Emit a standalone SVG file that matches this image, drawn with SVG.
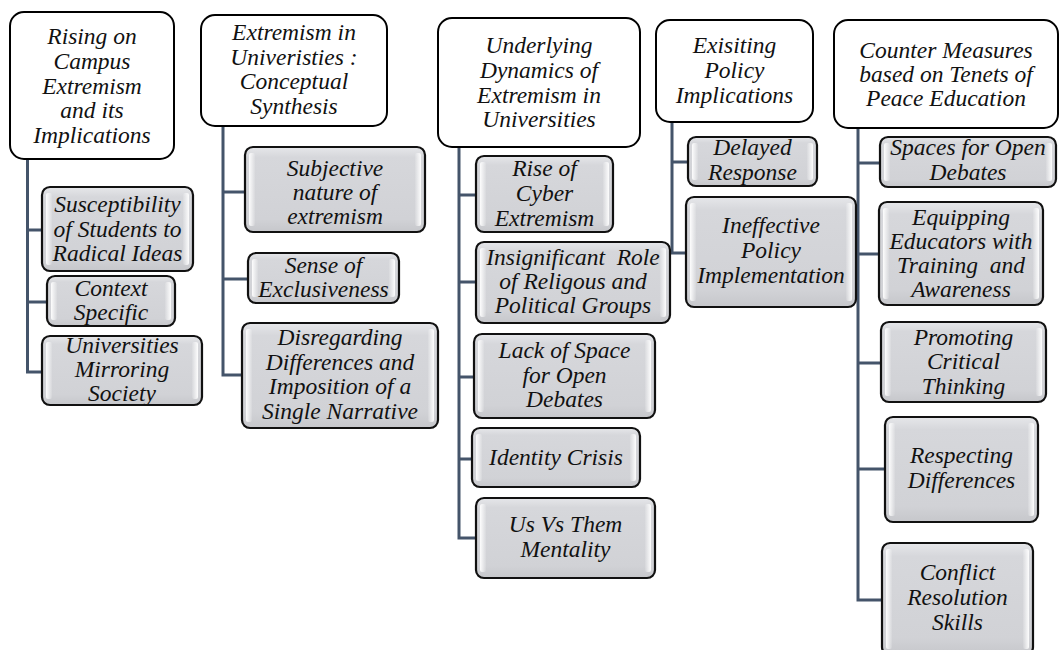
<svg xmlns="http://www.w3.org/2000/svg" width="1059" height="650" viewBox="0 0 1059 650">
<defs>
<linearGradient id="body" x1="0" y1="0" x2="0" y2="1">
<stop offset="0" stop-color="#e6e7ea"/>
<stop offset="0.12" stop-color="#d6d7db"/>
<stop offset="0.85" stop-color="#d1d2d6"/>
<stop offset="1" stop-color="#c6c7cb"/>
</linearGradient>
<linearGradient id="hlL" x1="0" y1="0" x2="1" y2="0">
<stop offset="0" stop-color="#ffffff" stop-opacity="0.95"/>
<stop offset="1" stop-color="#ffffff" stop-opacity="0.1"/>
</linearGradient>
<linearGradient id="hlR" x1="0" y1="0" x2="1" y2="0">
<stop offset="0" stop-color="#ffffff" stop-opacity="0.1"/>
<stop offset="1" stop-color="#ffffff" stop-opacity="0.95"/>
</linearGradient>
</defs>
<style>
.h{fill:#ffffff;stroke:#000;stroke-width:2}
.c{fill:url(#body);stroke:#111;stroke-width:2.2}
.l{fill:url(#hlL)}
.r{fill:url(#hlR)}
text{font-family:'Liberation Serif','Times New Roman',Times,serif;font-style:italic;font-size:23.5px;fill:#111;text-anchor:middle}
.con{fill:none;stroke:#44546a;stroke-width:3}
</style>
<rect width="1059" height="650" fill="#ffffff"/>
<g id="connectors">
<path class="con" d="M27.5 159V372H42M27.5 230H42M27.5 302H47"/>
<path class="con" d="M223 126V375H242M223 192H245M223 279H248"/>
<path class="con" d="M459 147V538H476M459 195H476M459 282H476M459 377H474M459 459H472"/>
<path class="con" d="M672 122V253H686M672 162H688"/>
<path class="con" d="M858 128V600H882M858 163H880M858 254H879M858 363H881M858 469H885"/>
</g>
<g id="h1"><rect class="h" x="10" y="12" width="164" height="147" rx="14"/>
<text><tspan x="92" y="44">Rising on</tspan><tspan x="92" y="69">Campus</tspan><tspan x="92" y="93.5">Extremism</tspan><tspan x="92" y="118">and its</tspan><tspan x="92" y="143">Implications</tspan></text></g>
<g id="h2"><rect class="h" x="201" y="15" width="186" height="111" rx="14"/>
<text><tspan x="294" y="40">Extremism in</tspan><tspan x="294" y="64.5">Univeristies :</tspan><tspan x="294" y="89">Conceptual</tspan><tspan x="294" y="113.5">Synthesis</tspan></text></g>
<g id="h3"><rect class="h" x="438" y="18" width="202" height="129" rx="14"/>
<text><tspan x="539" y="53">Underlying</tspan><tspan x="539" y="78">Dynamics of</tspan><tspan x="539" y="102.5">Extremism in</tspan><tspan x="539" y="127">Universities</tspan></text></g>
<g id="h4"><rect class="h" x="656" y="20" width="157" height="102" rx="14"/>
<text><tspan x="734.5" y="53">Exisiting</tspan><tspan x="734.5" y="78">Policy</tspan><tspan x="734.5" y="102.5">Implications</tspan></text></g>
<g id="h5"><rect class="h" x="834" y="20" width="224" height="108" rx="14"/>
<text><tspan x="946" y="57.5">Counter Measures</tspan><tspan x="946" y="82">based on Tenets of</tspan><tspan x="946" y="106">Peace Education</tspan></text></g>

<g id="c1a"><rect class="c" x="42" y="187" width="151" height="84" rx="8"/><rect class="l" x="46" y="193" width="6" height="72" rx="2"/><rect class="r" x="183" y="193" width="6" height="72" rx="2"/>
<text><tspan x="117.5" y="212">Susceptibility</tspan><tspan x="117.5" y="236.5">of Students to</tspan><tspan x="117.5" y="261">Radical Ideas</tspan></text></g>
<g id="c1b"><rect class="c" x="47" y="276" width="128" height="50" rx="8"/><rect class="l" x="51" y="282" width="6" height="38" rx="2"/><rect class="r" x="165" y="282" width="6" height="38" rx="2"/>
<text><tspan x="111" y="296">Context</tspan><tspan x="111" y="320">Specific</tspan></text></g>
<g id="c1c"><rect class="c" x="42" y="336" width="160" height="69" rx="8"/><rect class="l" x="46" y="342" width="6" height="57" rx="2"/><rect class="r" x="192" y="342" width="6" height="57" rx="2"/>
<text><tspan x="122" y="352.5">Universities</tspan><tspan x="122" y="376.5">Mirroring</tspan><tspan x="122" y="400.5">Society</tspan></text></g>

<g id="c2a"><rect class="c" x="245" y="147" width="180" height="85" rx="8"/><rect class="l" x="249" y="153" width="6" height="73" rx="2"/><rect class="r" x="415" y="153" width="6" height="73" rx="2"/>
<text><tspan x="335" y="176">Subjective</tspan><tspan x="335" y="200">nature of</tspan><tspan x="335" y="224">extremism</tspan></text></g>
<g id="c2b"><rect class="c" x="248" y="253" width="151" height="50" rx="8"/><rect class="l" x="252" y="259" width="6" height="38" rx="2"/><rect class="r" x="389" y="259" width="6" height="38" rx="2"/>
<text><tspan x="323.5" y="273">Sense of</tspan><tspan x="323.5" y="297">Exclusiveness</tspan></text></g>
<g id="c2c"><rect class="c" x="242" y="323" width="196" height="105" rx="8"/><rect class="l" x="246" y="329" width="6" height="93" rx="2"/><rect class="r" x="428" y="329" width="6" height="93" rx="2"/>
<text><tspan x="340" y="345">Disregarding</tspan><tspan x="340" y="369.5">Differences and</tspan><tspan x="340" y="394">Imposition of a</tspan><tspan x="340" y="418.5">Single Narrative</tspan></text></g>

<g id="c3a"><rect class="c" x="476" y="156" width="137" height="76" rx="8"/><rect class="l" x="480" y="162" width="6" height="64" rx="2"/><rect class="r" x="603" y="162" width="6" height="64" rx="2"/>
<text><tspan x="544.5" y="176">Rise of</tspan><tspan x="544.5" y="201">Cyber</tspan><tspan x="544.5" y="226">Extremism</tspan></text></g>
<g id="c3b"><rect class="c" x="476" y="242" width="194" height="81" rx="8"/><rect class="l" x="480" y="248" width="6" height="69" rx="2"/><rect class="r" x="660" y="248" width="6" height="69" rx="2"/>
<text xml:space="preserve"><tspan x="573" y="265">Insignificant  Role</tspan><tspan x="573" y="289">of Religous and</tspan><tspan x="573" y="313">Political Groups</tspan></text></g>
<g id="c3c"><rect class="c" x="474" y="334" width="181" height="84" rx="8"/><rect class="l" x="478" y="340" width="6" height="72" rx="2"/><rect class="r" x="645" y="340" width="6" height="72" rx="2"/>
<text><tspan x="564.5" y="358">Lack of Space</tspan><tspan x="564.5" y="382.5">for Open</tspan><tspan x="564.5" y="407">Debates</tspan></text></g>
<g id="c3d"><rect class="c" x="472" y="428" width="168" height="59" rx="8"/><rect class="l" x="476" y="434" width="6" height="47" rx="2"/><rect class="r" x="630" y="434" width="6" height="47" rx="2"/>
<text><tspan x="556" y="465">Identity Crisis</tspan></text></g>
<g id="c3e"><rect class="c" x="476" y="498" width="179" height="80" rx="8"/><rect class="l" x="480" y="504" width="6" height="68" rx="2"/><rect class="r" x="645" y="504" width="6" height="68" rx="2"/>
<text><tspan x="565.5" y="532">Us Vs Them</tspan><tspan x="565.5" y="557">Mentality</tspan></text></g>

<g id="c4a"><rect class="c" x="688" y="137" width="129" height="49" rx="8"/><rect class="l" x="692" y="143" width="6" height="37" rx="2"/><rect class="r" x="807" y="143" width="6" height="37" rx="2"/>
<text><tspan x="752.5" y="155">Delayed</tspan><tspan x="752.5" y="180">Response</tspan></text></g>
<g id="c4b"><rect class="c" x="686" y="197" width="170" height="110" rx="8"/><rect class="l" x="690" y="203" width="6" height="98" rx="2"/><rect class="r" x="846" y="203" width="6" height="98" rx="2"/>
<text><tspan x="771" y="233">Ineffective</tspan><tspan x="771" y="258">Policy</tspan><tspan x="771" y="283">Implementation</tspan></text></g>

<g id="c5a"><rect class="c" x="880" y="137" width="176" height="50" rx="8"/><rect class="l" x="884" y="143" width="6" height="38" rx="2"/><rect class="r" x="1046" y="143" width="6" height="38" rx="2"/>
<text><tspan x="968" y="155">Spaces for Open</tspan><tspan x="968" y="180">Debates</tspan></text></g>
<g id="c5b"><rect class="c" x="879" y="202" width="164" height="103" rx="8"/><rect class="l" x="883" y="208" width="6" height="91" rx="2"/><rect class="r" x="1033" y="208" width="6" height="91" rx="2"/>
<text xml:space="preserve"><tspan x="961" y="225">Equipping</tspan><tspan x="961" y="249">Educators with</tspan><tspan x="961" y="273">Training  and</tspan><tspan x="961" y="297">Awareness</tspan></text></g>
<g id="c5c"><rect class="c" x="881" y="322" width="165" height="80" rx="8"/><rect class="l" x="885" y="328" width="6" height="68" rx="2"/><rect class="r" x="1036" y="328" width="6" height="68" rx="2"/>
<text><tspan x="963.5" y="345">Promoting</tspan><tspan x="963.5" y="369">Critical</tspan><tspan x="963.5" y="393.5">Thinking</tspan></text></g>
<g id="c5d"><rect class="c" x="885" y="417" width="153" height="105" rx="8"/><rect class="l" x="889" y="423" width="6" height="93" rx="2"/><rect class="r" x="1028" y="423" width="6" height="93" rx="2"/>
<text><tspan x="961.5" y="463">Respecting</tspan><tspan x="961.5" y="488">Differences</tspan></text></g>
<g id="c5e"><rect class="c" x="882" y="543" width="151" height="112" rx="8"/><rect class="l" x="886" y="549" width="6" height="100" rx="2"/><rect class="r" x="1023" y="549" width="6" height="100" rx="2"/>
<text><tspan x="957.5" y="580">Conflict</tspan><tspan x="957.5" y="605">Resolution</tspan><tspan x="957.5" y="630">Skills</tspan></text></g>
</svg>
